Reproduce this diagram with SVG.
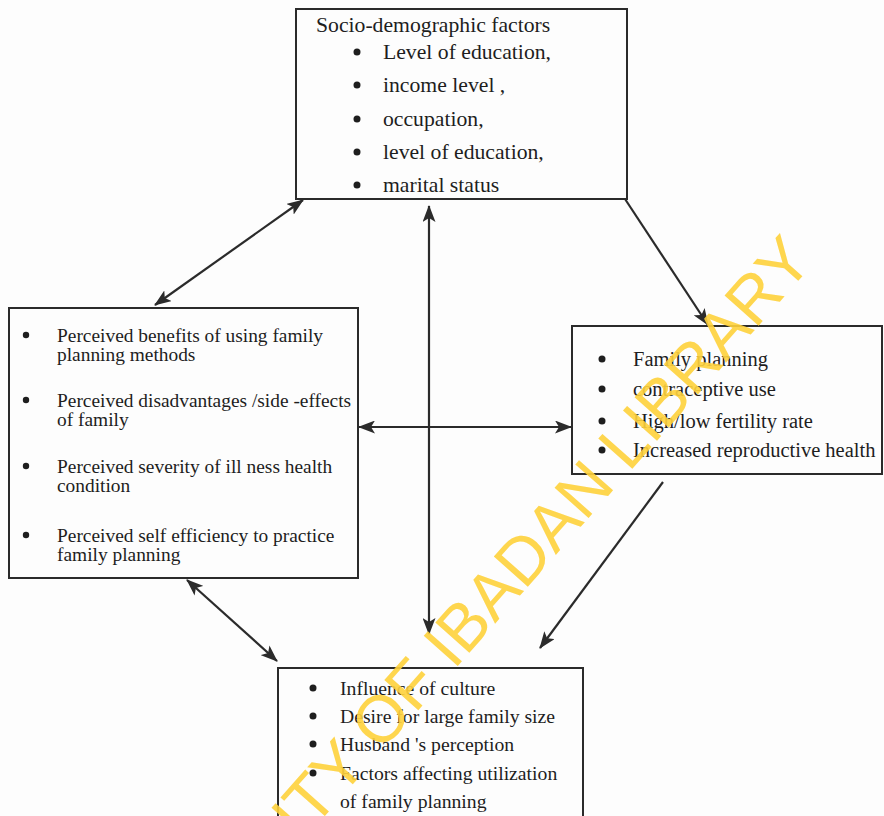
<svg xmlns="http://www.w3.org/2000/svg" width="884" height="816" viewBox="0 0 884 816">
<style>
.box{fill:none;stroke:#2b2b2b;stroke-width:2}
.t{font-family:"Liberation Serif","Times New Roman",serif;fill:#1e1e1e}
.top{font-size:21.7px}
.lft{font-size:19.4px}
.rgt{font-size:20.5px}
.bot{font-size:19.7px}
.b{fill:#1e1e1e}
.c{stroke:#2b2b2b;stroke-width:2.2;fill:none}
.wm{font-family:"Liberation Sans",Arial,sans-serif;font-size:66px;fill:#FFD23C;opacity:0.9}
</style>
<defs>
<marker id="ah" viewBox="0 0 17 13" refX="16" refY="6.5" markerWidth="17" markerHeight="13" markerUnits="userSpaceOnUse" orient="auto-start-reverse">
<path d="M0,0 L17,6.5 L0,13 L4,6.5 Z" fill="#2b2b2b"/>
</marker>
</defs>
<rect width="884" height="816" fill="#fdfdfd"/>
<g id="connectors">
<line class="c" x1="303" y1="200" x2="155" y2="305" marker-start="url(#ah)" marker-end="url(#ah)"/>
<line class="c" x1="429" y1="206" x2="429" y2="634" marker-start="url(#ah)" marker-end="url(#ah)"/>
<line class="c" x1="359" y1="427" x2="571" y2="427" marker-start="url(#ah)" marker-end="url(#ah)"/>
<line class="c" x1="625" y1="199" x2="708" y2="325" marker-end="url(#ah)"/>
<line class="c" x1="663" y1="482" x2="540" y2="648" marker-end="url(#ah)"/>
<line class="c" x1="187" y1="580" x2="277" y2="661" marker-start="url(#ah)" marker-end="url(#ah)"/>
</g>
<g id="socio">
<rect class="box" x="296" y="9" width="331" height="190"/>
<text class="t top" x="316" y="32">Socio-demographic factors</text>
<circle class="b" cx="357" cy="52" r="3.5"/><text class="t top" x="383" y="59">Level of education,</text>
<circle class="b" cx="357" cy="85" r="3.5"/><text class="t top" x="383" y="92">income level ,</text>
<circle class="b" cx="357" cy="119" r="3.5"/><text class="t top" x="383" y="126">occupation,</text>
<circle class="b" cx="357" cy="152" r="3.5"/><text class="t top" x="383" y="159">level of education,</text>
<circle class="b" cx="357" cy="185" r="3.5"/><text class="t top" x="383" y="192">marital status</text>
</g>
<g id="perceived">
<rect class="box" x="9" y="308" width="349" height="270"/>
<circle class="b" cx="26" cy="335" r="3.2"/>
<text class="t lft" x="57" y="342">Perceived benefits of using family</text>
<text class="t lft" x="57" y="361">planning methods</text>
<circle class="b" cx="26" cy="400" r="3.2"/>
<text class="t lft" x="57" y="407">Perceived disadvantages /side -effects</text>
<text class="t lft" x="57" y="426">of family</text>
<circle class="b" cx="26" cy="466" r="3.2"/>
<text class="t lft" x="57" y="473">Perceived severity of ill ness health</text>
<text class="t lft" x="57" y="492">condition</text>
<circle class="b" cx="26" cy="535" r="3.2"/>
<text class="t lft" x="57" y="542">Perceived self efficiency to  practice</text>
<text class="t lft" x="57" y="561">family planning</text>
</g>
<g id="outcomes">
<rect class="box" x="572" y="326" width="310" height="148"/>
<circle class="b" cx="602" cy="359" r="3.5"/><text class="t rgt" x="633" y="366">Family planning</text>
<circle class="b" cx="602" cy="389" r="3.5"/><text class="t rgt" x="633" y="396">contraceptive use</text>
<circle class="b" cx="602" cy="421" r="3.5"/><text class="t rgt" x="633" y="428">High/low fertility rate</text>
<circle class="b" cx="602" cy="450" r="3.5"/><text class="t rgt" x="633" y="457">Increased reproductive health</text>
</g>
<g id="culture">
<rect class="box" x="278" y="668" width="305" height="170"/>
<circle class="b" cx="313" cy="688" r="3.5"/><text class="t bot" x="340" y="695">Influence of culture</text>
<circle class="b" cx="313" cy="716" r="3.5"/><text class="t bot" x="340" y="723">Desire for large family size</text>
<circle class="b" cx="313" cy="744" r="3.5"/><text class="t bot" x="340" y="751">Husband 's perception</text>
<circle class="b" cx="313" cy="773" r="3.5"/><text class="t bot" x="340" y="780">Factors affecting utilization</text>
<text class="t bot" x="340" y="808">of family planning</text>
</g>
<text class="wm" text-anchor="end" transform="translate(815,262) rotate(-48.5)">UNIVERSITY OF IBADAN LIBRARY</text>
</svg>
